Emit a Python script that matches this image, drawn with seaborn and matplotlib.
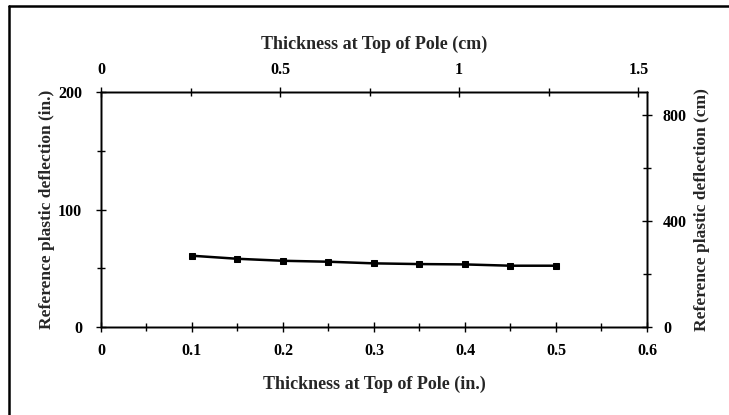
import numpy as np
import pandas as pd
import matplotlib
matplotlib.use("Agg")
import matplotlib.pyplot as plt
from matplotlib.lines import Line2D
from matplotlib.ticker import MultipleLocator
import seaborn as sns

# data
thickness_in = [0.10, 0.15, 0.20, 0.25, 0.30, 0.35, 0.40, 0.45, 0.50]
deflection_in = [60.7, 58.1, 56.4, 55.6, 54.2, 53.6, 53.3, 52.2, 52.2]

x_ticks_in = [0, 0.1, 0.2, 0.3, 0.4, 0.5, 0.6]
x_ticks_cm = [0, 0.5, 1, 1.5]
y_ticks_in = [0, 100, 200]
y_ticks_cm = [0, 400, 800]

df = pd.DataFrame({"thickness": thickness_in, "deflection": deflection_in})

sns.set_style("white")
plt.rcParams['font.family'] = ['Liberation Serif', 'DejaVu Serif']
plt.rcParams['font.weight'] = 'bold'

fig = plt.figure(figsize=(7.29, 4.15), dpi=100)
ax = fig.add_axes([0.1385, 0.212, 0.749, 0.566])

sns.lineplot(data=df, x="thickness", y="deflection", ax=ax, color="black",
             marker="s", markersize=5, linewidth=1.8, markeredgecolor="black")

ax.set_xlim(0, 0.6)
ax.set_ylim(0, 200)
ax.set_xticks(x_ticks_in)
ax.set_xticklabels([f"{v:g}" for v in x_ticks_in])
ax.set_yticks(y_ticks_in)
ax.xaxis.set_minor_locator(MultipleLocator(0.05))
ax.yaxis.set_minor_locator(MultipleLocator(50))
ax.set_xlabel("Thickness at Top of Pole (in.)", fontsize=13, fontweight="bold", labelpad=12)
ax.set_ylabel("Reference plastic deflection (in.)", fontsize=12.5, fontweight="bold", labelpad=2)

# secondary axes (cm)
ax_r = ax.twinx()
ax_r.set_ylim(0, 887)
ax_r.set_yticks(y_ticks_cm)
ax_r.yaxis.set_minor_locator(MultipleLocator(200))
ax_r.set_ylabel("Reference plastic deflection (cm)", fontsize=12.5, fontweight="bold", labelpad=5)

ax_t = ax.twiny()
ax_t.set_xlim(0, 0.6 * 2.54)
ax_t.set_xticks(x_ticks_cm)
ax_t.set_xticklabels([f"{v:g}" for v in x_ticks_cm])
ax_t.xaxis.set_minor_locator(MultipleLocator(0.25))
ax_t.set_xlabel("Thickness at Top of Pole (cm)", fontsize=13, fontweight="bold", labelpad=9)

for a in (ax, ax_r, ax_t):
    for s in a.spines.values():
        s.set_color("black")
        s.set_linewidth(1.0)
    a.tick_params(which="major", direction="inout", length=7, width=1, colors="black",
                  labelsize=11.5, pad=8)
    a.tick_params(which="minor", direction="inout", length=6, width=1, colors="black")
    for lab in a.get_xticklabels() + a.get_yticklabels():
        lab.set_fontweight("bold")
ax.tick_params(axis="y", pad=10)
ax_r.tick_params(axis="y", pad=8)
ax_t.tick_params(axis="x", pad=7)

# scan frame at left/top
fig.add_artist(Line2D([9 / 729, 9 / 729], [0, 1 - 6 / 415], color="black", lw=1.8))
fig.add_artist(Line2D([9 / 729, 1], [1 - 6 / 415, 1 - 6 / 415], color="black", lw=1.8))

fig.savefig("out.png", dpi=100)
